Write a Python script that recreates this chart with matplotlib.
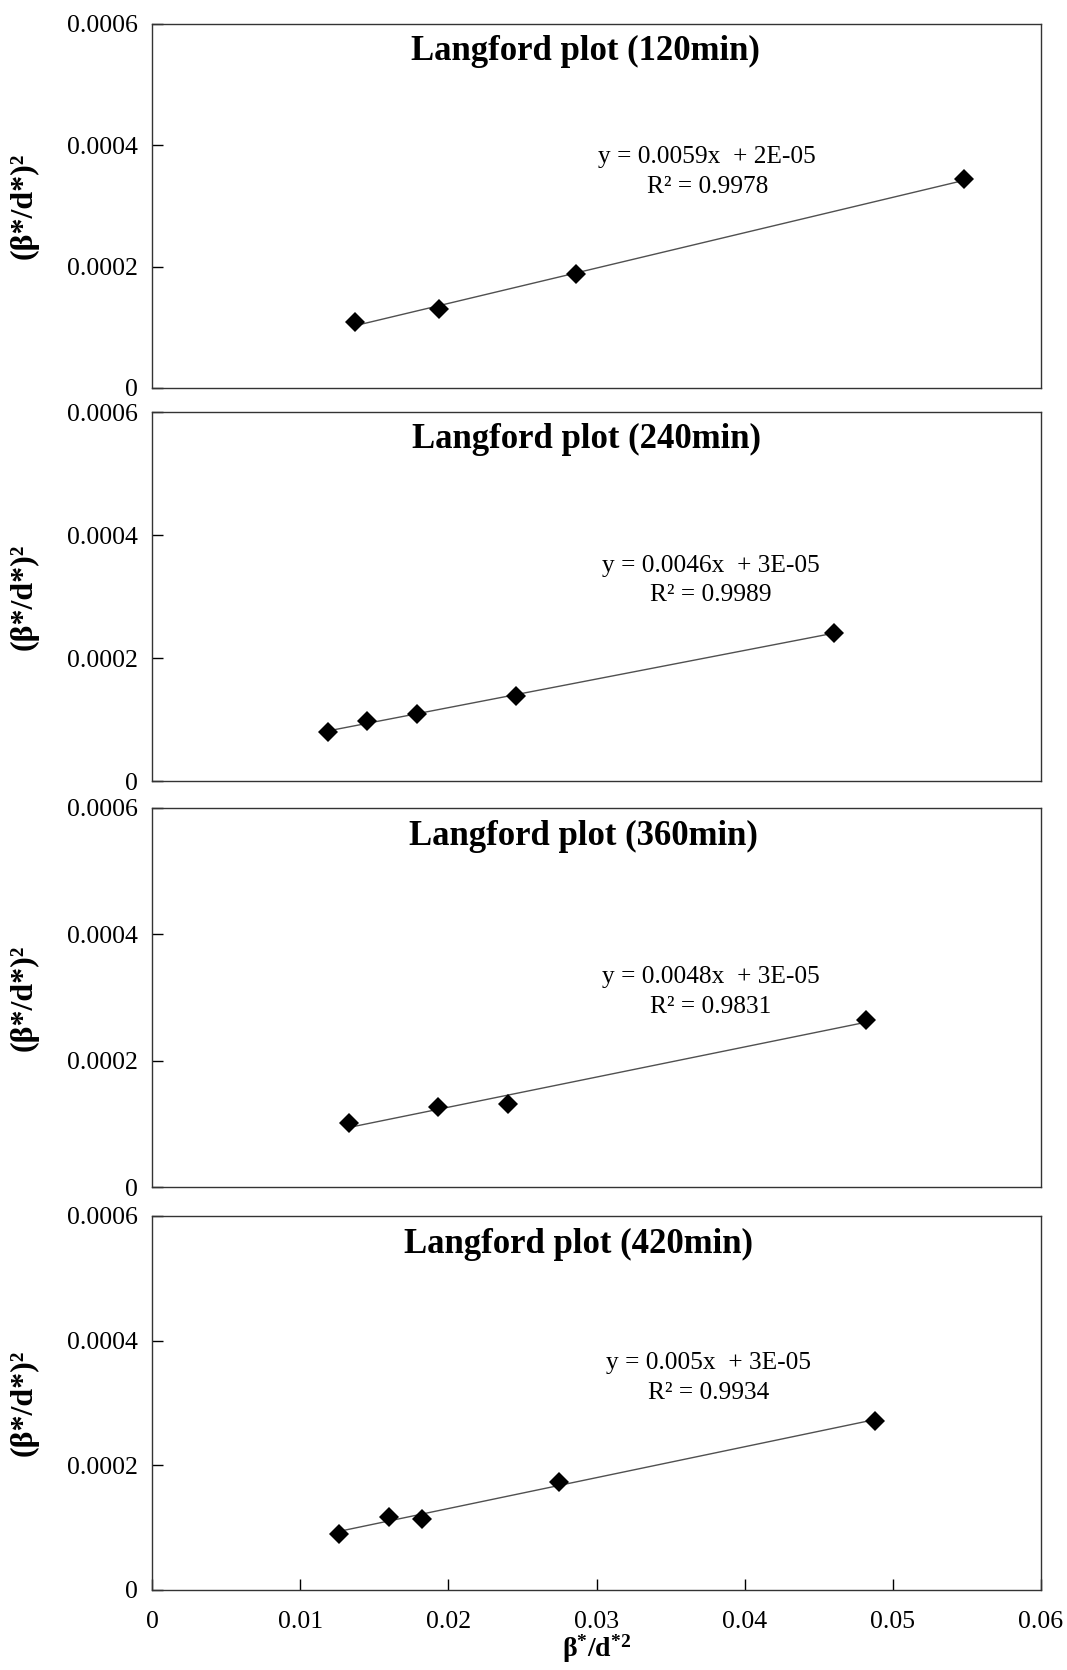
import matplotlib
matplotlib.use("Agg")
import matplotlib.pyplot as plt
import numpy as np

plt.rcParams['font.family'] = ['Liberation Serif', 'DejaVu Serif']
plt.rcParams['mathtext.fontset'] = 'custom'
plt.rcParams['mathtext.rm'] = 'Liberation Serif'
plt.rcParams['mathtext.bf'] = 'Liberation Serif:bold'
plt.rcParams['mathtext.it'] = 'Liberation Serif:italic'

titles = ["Langford plot (120min)", "Langford plot (240min)",
          "Langford plot (360min)", "Langford plot (420min)"]

x120 = [0.01367, 0.01935, 0.02863, 0.05482]
y120 = [0.0001088, 0.0001298, 0.0001877, 0.0003439]
x240 = [0.01187, 0.01453, 0.01791, 0.02460, 0.04604]
y240 = [0.0000798, 0.0000971, 0.0001092, 0.0001387, 0.0002410]
x360 = [0.01331, 0.01928, 0.02403, 0.04820]
y360 = [0.0001011, 0.0001264, 0.0001315, 0.0002646]
x420 = [0.01259, 0.01597, 0.01820, 0.02748, 0.04878]
y420 = [0.0000906, 0.0001179, 0.0001145, 0.0001726, 0.0002718]

equations = ["y = 0.0059x  + 2E-05", "y = 0.0046x  + 3E-05",
             "y = 0.0048x  + 3E-05", "y = 0.005x  + 3E-05"]
r2_labels = ["R² = 0.9978", "R² = 0.9989", "R² = 0.9831", "R² = 0.9934"]

xticks = [0, 0.01, 0.02, 0.03, 0.04, 0.05, 0.06]
xtick_labels = ["0", "0.01", "0.02", "0.03", "0.04", "0.05", "0.06"]
yticks = [0, 0.0002, 0.0004, 0.0006]
ytick_labels = ["0", "0.0002", "0.0004", "0.0006"]

xs = [x120, x240, x360, x420]
ys = [y120, y240, y360, y420]

W, H = 1067, 1670
fig = plt.figure(figsize=(W / 100, H / 100), dpi=100)

# panel extents in pixels (top, bottom)
panels_px = [(24, 388), (412, 781), (808, 1187), (1216, 1590)]
left_px, right_px = 152, 1041
title_x = [0.02924, 0.02935, 0.02913, 0.02881]
eq_y = [(0.000381, 0.0003316), (0.0003503, 0.0003017),
        (0.000332, 0.0002848), (0.0003641, 0.0003162)]
eq_x = [0.03748, 0.03770, 0.03770, 0.03755]

for i in range(4):
    top, bot = panels_px[i]
    ax = fig.add_axes([left_px / W, 1 - bot / H, (right_px - left_px) / W, (bot - top) / H])
    x = np.array(xs[i]); y = np.array(ys[i])
    m, b = np.polyfit(x, y, 1)
    xl = np.array([x.min(), x.max()])
    ax.plot(xl, m * xl + b, color='#505050', lw=1.0, zorder=2)
    ax.plot(x, y, linestyle='none', marker='D', markersize=10.5, color='black',
            markeredgewidth=0, zorder=3)
    ax.set_xlim(0, 0.06)
    ax.set_ylim(0, 0.0006)
    ax.set_yticks(yticks)
    ax.set_yticklabels(ytick_labels, fontsize=18.5)
    ax.tick_params(axis='y', direction='in', length=8, width=1, pad=10)
    for s in ax.spines.values():
        s.set_color('#333333'); s.set_linewidth(1.0)
    if i == 3:
        ax.set_xticks(xticks)
        ax.set_xticklabels(xtick_labels, fontsize=18.5)
        ax.tick_params(axis='x', direction='in', length=8, width=1, pad=15)
        ax.set_xlabel(r'$\mathbf{\beta}^{\mathbf{*}}\mathbf{/d}^{\mathbf{*2}}$', fontsize=20, labelpad=0)
    else:
        ax.set_xticks([])
    ax.set_ylabel("(β*/d*)²", fontsize=23, fontweight='bold')
    ax.yaxis.set_label_coords(-0.128, 0.5)
    ax.text(title_x[i], 0.000555, titles[i], ha='center', va='center',
            fontsize=25, fontweight='bold')
    ax.text(eq_x[i], eq_y[i][0], equations[i], ha='center', va='center', fontsize=18.3)
    ax.text(eq_x[i], eq_y[i][1], r2_labels[i], ha='center', va='center', fontsize=18.3)

fig.savefig("out.png", dpi=100)
